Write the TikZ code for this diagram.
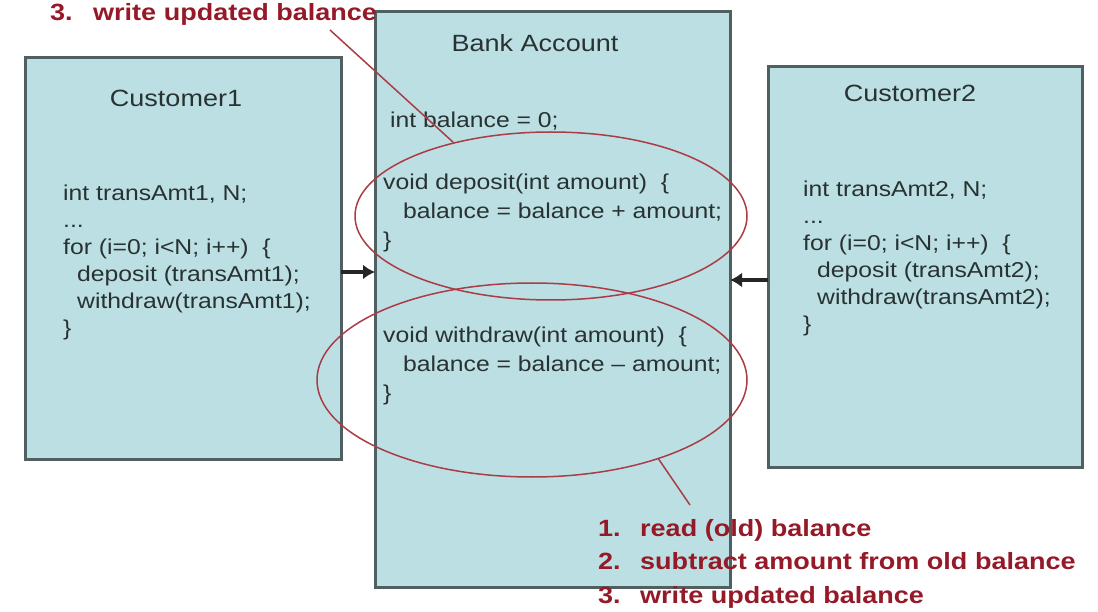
\documentclass[tikz,border=0pt]{standalone}
\usepackage{fontspec}
\setmainfont{Liberation Sans}
\newfontfamily\stf{Liberation Sans}[FakeStretch=1.15]
\usetikzlibrary{shapes.geometric,arrows.meta}
\definecolor{boxfill}{RGB}{188,223,227}
\definecolor{boxline}{RGB}{80,95,95}
\definecolor{txt}{RGB}{40,50,50}
\definecolor{redtxt}{RGB}{150,25,40}
\definecolor{redline}{RGB}{170,60,70}
\begin{document}
\begin{tikzpicture}[x=1pt,y=-1pt,
 box/.style={draw=boxline, fill=boxfill, line width=3pt, anchor=north west, inner sep=0pt, outer sep=0pt},
 title/.style={font=\stf\fontsize{23.5}{28}\selectfont, text=txt, inner sep=0pt},
 code/.style={font=\stf\fontsize{21.5}{29}\selectfont, text=txt, align=left, anchor=north west, inner sep=0pt},
 ccode/.style={code, font=\stf\fontsize{21.5}{27}\selectfont},
 note/.style={font=\stf\bfseries\fontsize{23.5}{33.5}\selectfont, text=redtxt, align=left, inner sep=0pt},
 oval/.style={ellipse, draw=redline, line width=1.5pt, inner sep=0pt},
 ptr/.style={draw=redline, line width=1.5pt},
 arr/.style={-{Latex[length=12pt,width=15pt]}, line width=3.5pt, draw=black!85}
]
\useasboundingbox (0,0) rectangle (1098,612);
\fill[white] (0,0) rectangle (1098,612);
% boxes
\node[box, minimum width=316pt, minimum height=401pt] (c1) at (25,58) {};
\node[box, minimum width=355pt, minimum height=575pt] (bank) at (375,12) {};
\node[box, minimum width=314pt, minimum height=400pt] (c2) at (768,67) {};
% titles
\node[title] (t1) at (176,98) {Customer1};
\node[title] (tb) at (535,43) {Bank Account};
\node[title] (t2) at (910,93) {Customer2};
% code
\node[ccode] (code1) at (63,185) {int transAmt1, N;\\...\\for (i=0; i<N; i++)\ \ \{\\\hspace*{14pt}deposit (transAmt1);\\\hspace*{14pt}withdraw(transAmt1);\\\}};
\node[ccode] (code2) at (803,181) {int transAmt2, N;\\...\\for (i=0; i<N; i++)\ \ \{\\\hspace*{14pt}deposit (transAmt2);\\\hspace*{14pt}withdraw(transAmt2);\\\}};
\node[code] (bal) at (390,112) {int balance = 0;};
\node[code] (depc) at (383,174) {void deposit(int amount)\ \ \{\\\hspace*{20pt}balance = balance + amount;\\\}};
\node[code] (wdc) at (383,327) {void withdraw(int amount)\ \ \{\\\hspace*{20pt}balance = balance – amount;\\\}};
% ellipses
\node[oval, minimum width=392pt, minimum height=168pt] (dep) at (551,216) {};
\node[oval, minimum width=430pt, minimum height=194pt] (wd) at (532,380) {};
% pointers
\coordinate (p1) at (330,30);
\coordinate (p2) at (690,505);
\draw[ptr] (p1) -- (dep.143);
\draw[ptr] (wd.-32) -- (p2);
% arrows
\draw[arr] (c1.east |- 0,272) -- (bank.west |- 0,272);
\draw[arr] (c2.west |- 0,280) -- (bank.east |- 0,280);
% notes
\node[note, anchor=west] (n1) at (50,14) {\makebox[43pt][l]{3.}write updated balance};
\node[note, anchor=north west] (n2) at (598,519) {\makebox[42pt][l]{1.}read (old) balance\\\makebox[42pt][l]{2.}subtract amount from old balance\\\makebox[42pt][l]{3.}write updated balance};
\end{tikzpicture}
\end{document}
